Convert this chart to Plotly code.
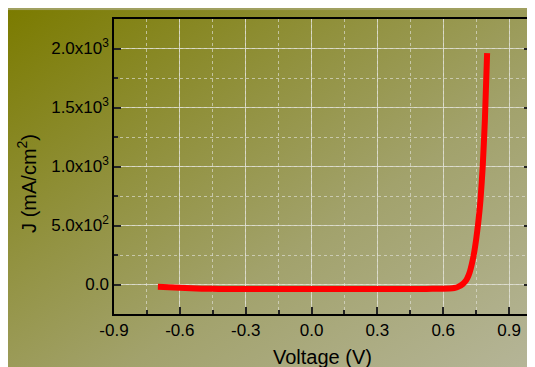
import base64
import plotly.graph_objects as go

# Data
voltage = [-0.70, -0.65, -0.60, -0.55, -0.50, -0.45, -0.40, -0.30, -0.20, -0.10,
           0.00, 0.10, 0.20, 0.30, 0.40, 0.50, 0.55, 0.60, 0.63, 0.65, 0.67,
           0.69, 0.70, 0.71, 0.72, 0.73, 0.74, 0.75, 0.76, 0.77, 0.78, 0.79, 0.80]
current_density = [-20, -23, -27, -31, -35, -37, -38, -38, -38, -38,
                   -38, -38, -38, -38, -38, -38, -37, -36, -34, -30, -18,
                   5, 25, 55, 100, 170, 260, 380, 530, 720, 1000, 1400, 1960]

x_tickvals = [-0.9, -0.6, -0.3, 0.0, 0.3, 0.6, 0.9]
x_ticktext = ["-0.9", "-0.6", "-0.3", "0.0", "0.3", "0.6", "0.9"]
y_tickvals = [0, 500, 1000, 1500, 2000]
y_ticktext = ["0.0", "5.0x10<sup>2</sup>", "1.0x10<sup>3</sup>",
              "1.5x10<sup>3</sup>", "2.0x10<sup>3</sup>"]

# page body has an 8px margin; figure sits at (8, 8)
W, H = 535, 367
L, R, T, B = 106, 12, 9, 61
pw, ph = W - L - R, H - T - B

svg = ('<svg xmlns="http://www.w3.org/2000/svg" width="535" height="367" preserveAspectRatio="none">'
       '<defs><linearGradient id="g" x1="0" y1="0" x2="1" y2="1">'
       '<stop offset="0" stop-color="#7b7b00"/>'
       '<stop offset="0.35" stop-color="#929240"/>'
       '<stop offset="0.6" stop-color="#a2a26c"/>'
       '<stop offset="1" stop-color="#b6b69a"/>'
       '</linearGradient></defs>'
       '<rect width="535" height="367" fill="url(#g)"/></svg>')
src = "data:image/svg+xml;base64," + base64.b64encode(svg.encode()).decode()

fig = go.Figure()
fig.add_trace(go.Scatter(
    x=voltage, y=current_density, mode="lines",
    line=dict(color="#ff0000", width=6, shape="spline", smoothing=0.6),
    showlegend=False))

grid_major = "rgba(225,225,215,0.75)"
grid_minor = "rgba(225,225,215,0.65)"

fig.update_layout(
    width=W, height=H,
    margin=dict(l=L, r=R, t=T, b=B),
    paper_bgcolor="#a0a060",
    plot_bgcolor="rgba(0,0,0,0)",
    font=dict(family="Liberation Sans, Arial, sans-serif", color="#000000", size=17),
    images=[dict(source=src, xref="paper", yref="paper",
                 x=-L / pw, y=1 + T / ph,
                 sizex=W / pw, sizey=H / ph,
                 xanchor="left", yanchor="top", sizing="stretch", layer="below")],
    xaxis=dict(
        range=[-0.9, 1.0], tickvals=x_tickvals, ticktext=x_ticktext,
        showline=True, linecolor="black", linewidth=1.5, mirror=True,
        ticks="inside", ticklen=7, tickwidth=1.5, tickcolor="#222222",
        showgrid=True, gridcolor=grid_major, gridwidth=1, zeroline=False,
        tickfont=dict(size=17),
        minor=dict(dtick=0.15, tick0=-0.9, ticks="inside", ticklen=4,
                   tickcolor="#222222", showgrid=True, gridcolor=grid_minor,
                   griddash="dot", gridwidth=1),
    ),
    yaxis=dict(
        range=[-250, 2250], tickvals=y_tickvals, ticktext=y_ticktext,
        showline=True, linecolor="black", linewidth=1.5, mirror="allticks",
        ticks="inside", ticklen=7, tickwidth=1.5, tickcolor="#222222",
        showgrid=True, gridcolor=grid_major, gridwidth=1, zeroline=False,
        tickfont=dict(size=17),
        minor=dict(dtick=250, tick0=-250, ticks="inside", ticklen=4,
                   tickcolor="#222222", showgrid=True, gridcolor=grid_minor,
                   griddash="dot", gridwidth=1),
    ),
    annotations=[
        dict(text="Voltage (V)", xref="paper", yref="paper",
             x=0.5, y=1 - (349 - T) / ph, xanchor="center", yanchor="middle",
             showarrow=False, font=dict(size=20)),
        dict(text="J (mA/cm<sup>2</sup>)", xref="paper", yref="paper",
             x=(19 - L) / pw, y=1 - (175 - T) / ph, xanchor="center", yanchor="middle",
             textangle=-90, showarrow=False, font=dict(size=20)),
    ],
)

fig.write_html("out.html")
